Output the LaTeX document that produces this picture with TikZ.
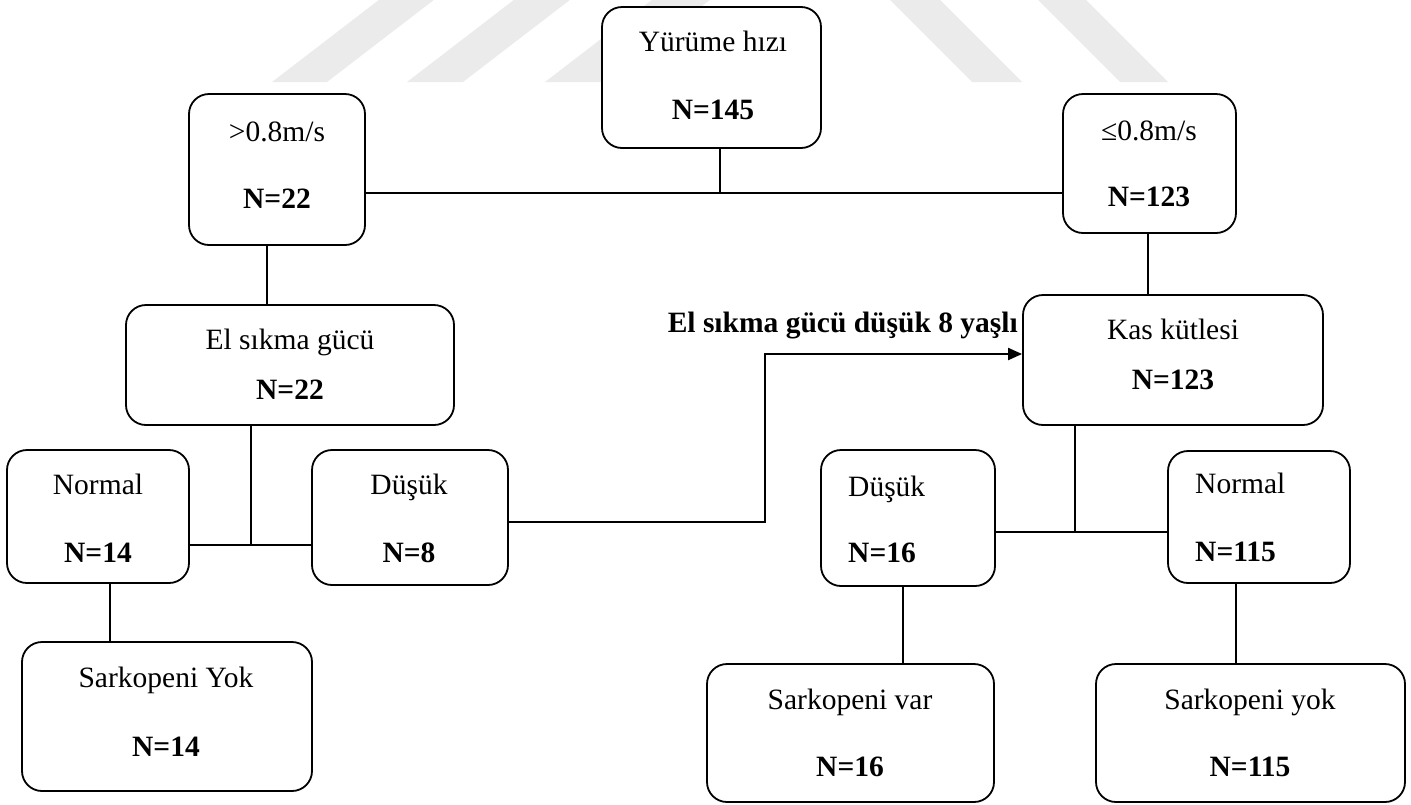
\documentclass[tikz,border=0pt]{standalone}
\usepackage{fontspec}
\setmainfont{Liberation Serif}
\usetikzlibrary{arrows.meta}
\begin{document}
\tikzset{
 box/.style={draw, line width=1.8pt, rounded corners=20pt, fill=white, inner sep=0pt},
 txt/.style={anchor=base, inner sep=0pt, font=\fontsize{29.5}{34}\selectfont},
 btxt/.style={anchor=base, inner sep=0pt, font=\fontsize{29.5}{34}\selectfont\bfseries},
 ln/.style={line width=1.4pt},
 hln/.style={line width=2pt},
 wm/.style={fill=black!8, draw=none}
}
\begin{tikzpicture}[x=1pt,y=-1pt]
\useasboundingbox (0,0) rectangle (1411,804);
% watermark stripes
\fill[wm] (272,82) -- (327,82) -- (452,-14) -- (397,-14) -- cycle;
\fill[wm] (407,82) -- (463,82) -- (588,-14) -- (532,-14) -- cycle;
\fill[wm] (545,82) -- (603,82) -- (728,-14) -- (670,-14) -- cycle;
\fill[wm] (972,82) -- (1022,82) -- (926,-14) -- (876,-14) -- cycle;
\fill[wm] (1120,82) -- (1168,82) -- (1072,-14) -- (1024,-14) -- cycle;
% boxes
\node[box, minimum width=219pt, minimum height=141pt] (yur) at (711.5,77.5) {};
\node[box, minimum width=176pt, minimum height=151pt] (fast) at (277,169.5) {};
\node[box, minimum width=173pt, minimum height=139pt] (slow) at (1149.5,163.5) {};
\node[box, minimum width=328pt, minimum height=120pt] (el) at (290,365) {};
\node[box, minimum width=300pt, minimum height=130pt] (kas) at (1173,360) {};
\node[box, minimum width=182pt, minimum height=133pt] (nL) at (98,516.5) {};
\node[box, minimum width=196pt, minimum height=135pt] (dL) at (410,517.5) {};
\node[box, minimum width=290pt, minimum height=149pt] (syL) at (167,716.5) {};
\node[box, minimum width=174pt, minimum height=136pt] (dR) at (908,518) {};
\node[box, minimum width=182pt, minimum height=132pt] (nR) at (1259,517) {};
\node[box, minimum width=287pt, minimum height=138pt] (svR) at (850.5,733) {};
\node[box, minimum width=309pt, minimum height=138pt] (syR) at (1250.5,733) {};
% connectors
\coordinate (j1) at (720,193);
\draw[ln] (yur.south -| j1) -- (j1);
\draw[hln] (fast.east |- j1) -- (slow.west |- j1);
\coordinate (j2) at (267,0);
\draw[ln] (fast.south -| j2) -- (el.north -| j2);
\coordinate (j3) at (251,545);
\draw[ln] (el.south -| j3) -- (j3);
\draw[ln] (nL.east |- j3) -- (dL.west |- j3);
\coordinate (j4) at (110,0);
\draw[ln] (nL.south -| j4) -- (syL.north -| j4);
\coordinate (j5) at (765,522);
\coordinate (j6) at (765,354);
\draw[hln, -{Triangle[length=14pt,width=12pt]}] (dL.east |- j5) -- (j5) -- (j6) -- (kas.west |- j6);
\coordinate (j7) at (1148,0);
\draw[ln] (slow.south -| j7) -- (kas.north -| j7);
\coordinate (j8) at (1075,532);
\draw[ln] (kas.south -| j8) -- (j8);
\draw[ln] (dR.east |- j8) -- (nR.west |- j8);
\coordinate (j9) at (903,0);
\draw[ln] (dR.south -| j9) -- (svR.north -| j9);
\coordinate (j10) at (1236,0);
\draw[ln] (nR.south -| j10) -- (syR.north -| j10);
% texts
\node[txt] (yurA) at (713,51) {Yürüme hızı};
\node[btxt] (yurB) at (713,119) {N=145};
\node[txt] (fastA) at (277,141) {>0.8m/s};
\node[btxt] (fastB) at (277,208) {N=22};
\node[txt] (slowA) at (1149,140) {≤0.8m/s};
\node[btxt] (slowB) at (1149,206) {N=123};
\node[txt] (elA) at (290,349) {El sıkma gücü};
\node[btxt] (elB) at (290,399) {N=22};
\node[txt] (kasA) at (1173,339) {Kas kütlesi};
\node[btxt] (kasB) at (1173,389) {N=123};
\node[txt] (nLA) at (98,494) {Normal};
\node[btxt] (nLB) at (98,562) {N=14};
\node[txt] (dLA) at (409,494) {Düşük};
\node[btxt] (dLB) at (409,562) {N=8};
\node[txt] (syLA) at (166,687) {Sarkopeni Yok};
\node[btxt] (syLB) at (166,756) {N=14};
\node[txt, anchor=base west] (dRA) at (848,496) {Düşük};
\node[btxt, anchor=base west] (dRB) at (848,562) {N=16};
\node[txt, anchor=base west] (nRA) at (1195,493) {Normal};
\node[btxt, anchor=base west] (nRB) at (1195,561) {N=115};
\node[txt] (svRA) at (850,709) {Sarkopeni var};
\node[btxt] (svRB) at (850,776) {N=16};
\node[txt] (syRA) at (1250,709) {Sarkopeni yok};
\node[btxt] (syRB) at (1250,776) {N=115};
\node[btxt, anchor=base east] (lab) at (1018,332) {El sıkma gücü düşük 8 yaşlı};
\end{tikzpicture}
\end{document}
